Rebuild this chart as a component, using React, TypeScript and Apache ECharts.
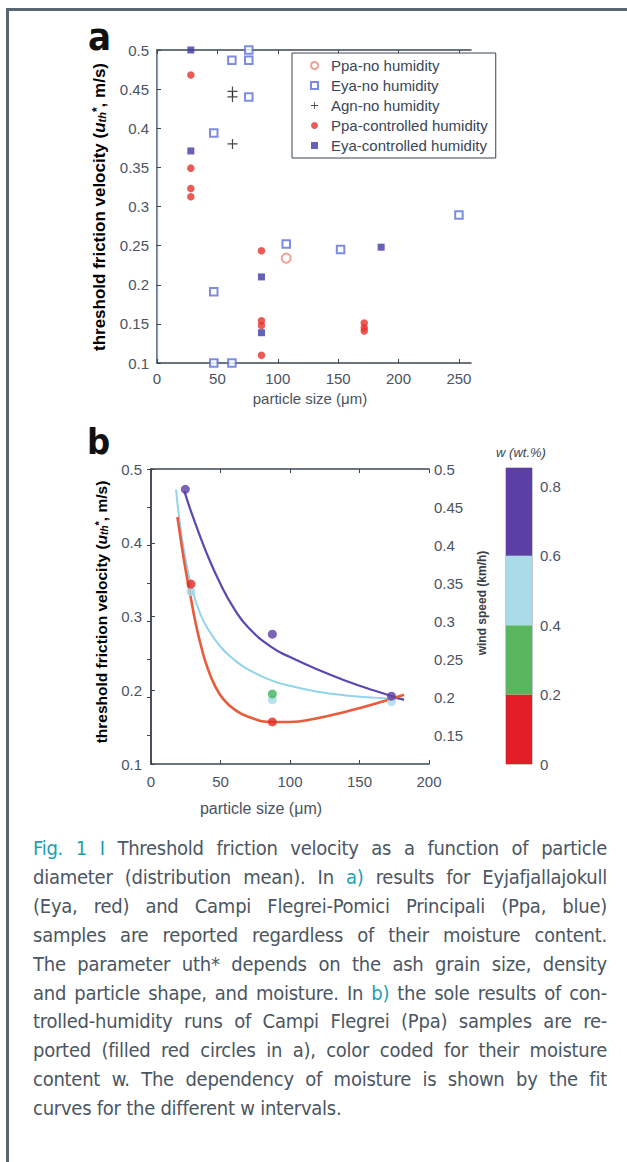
import React, { useEffect, useRef } from "react";
import * as echarts from "echarts";

// ---------- Panel a data: [particle size (µm), u_th* (m/s)] ----------
const ppaNoHumidity = [[107, 0.234]];
const eyaNoHumidity = [
  [47, 0.394], [62, 0.487], [76, 0.5], [76, 0.487], [76, 0.44], [250, 0.289],
  [47, 0.191], [47, 0.1], [62, 0.1], [107, 0.252], [152, 0.245],
];
const agnNoHumidity = [[62.5, 0.447], [62.5, 0.44], [62.5, 0.38]];
const ppaControlled = [
  [28, 0.468], [28, 0.349], [28, 0.323], [28, 0.3125],
  [86.5, 0.2435], [86.5, 0.154], [86.5, 0.148], [86.5, 0.11],
  [171.6, 0.151], [171.6, 0.145], [171.6, 0.141],
];
const eyaControlled = [[28, 0.5], [28, 0.371], [86.5, 0.21], [86.5, 0.1387], [185.6, 0.248]];

const xTicksA = [0, 50, 100, 150, 200, 250];
const yTicksRightB = [0.15, 0.2, 0.25, 0.3, 0.35, 0.4, 0.45, 0.5];
const wTicks = [0, 0.2, 0.4, 0.6, 0.8];

// ---------- Panel b data (fit curves) ----------
const fitPurple = [
  [24, 0.47], [30, 0.436], [40, 0.386], [50, 0.344], [60, 0.31], [70, 0.285],
  [87, 0.258], [100, 0.245], [120, 0.228], [140, 0.213], [160, 0.2], [182, 0.187],
];
const fitLightBlue = [
  [18, 0.472], [22, 0.41], [26, 0.366], [30, 0.334], [35, 0.306], [40, 0.286],
  [50, 0.259], [60, 0.241], [70, 0.228], [87, 0.213], [100, 0.206], [120, 0.198],
  [140, 0.193], [160, 0.19], [182, 0.188],
];
const fitRed = [
  [19, 0.435], [22, 0.397], [25, 0.362], [28, 0.332], [32, 0.292], [36, 0.26],
  [40, 0.234], [46, 0.206], [52, 0.188], [60, 0.174], [70, 0.164], [87, 0.157],
  [100, 0.157], [117, 0.161], [140, 0.171], [160, 0.181], [182, 0.194],
];
const ptsPurple = [[24.7, 0.4725], [87.3, 0.276], [173, 0.192]];
const ptsRed = [[28.8, 0.344], [87.3, 0.157]];
const ptsLightBlue = [[28.8, 0.3336], [87.3, 0.187], [173, 0.1845]];
const ptsGreen = [[87.3, 0.195]];

// ---------- colour bar (w, wt.%) ----------
const wBins = ["0-0.2", "0.2-0.4", "0.4-0.6", "0.6-0.85"];
const wBinHeights = [0.2, 0.2, 0.2, 0.253];
const wBinColors = ["#e21d26", "#5ab65e", "#a9dce8", "#5b3fa5"];

const captionLines = [
  [["t", "Fig. 1 I "], ["n", "Threshold friction velocity as a function of particle"]],
  [["n", "diameter (distribution mean). In "], ["t", "a)"], ["n", " results for Eyjafjallajokull"]],
  [["n", "(Eya, red) and Campi Flegrei-Pomici Principali (Ppa, blue)"]],
  [["n", "samples are reported regardless of their moisture content."]],
  [["n", "The parameter uth* depends on the ash grain size, density"]],
  [["n", "and particle shape, and moisture. In "], ["t", "b)"], ["n", " the sole results of con-"]],
  [["n", "trolled-humidity runs of Campi Flegrei (Ppa) samples are re-"]],
  [["n", "ported (filled red circles in a), color coded for their moisture"]],
  [["n", "content w. The dependency of moisture is shown by the fit"]],
  [["n", "curves for the different w intervals."]],
];

const AX = "#3b4551";
const TICKC = "#4a5463";
const FONT = "'Liberation Sans', Arial, sans-serif";
const PLUS = "path://M4.4,0 h1.2 v4.4 h4.4 v1.2 h-4.4 v4.4 h-1.2 v-4.4 h-4.4 v-1.2 h4.4 z";

const isMult = (v: number, step: number) => Math.abs(v / step - Math.round(v / step)) < 1e-6;

function buildOption(): any {
  const tickLabel = { color: TICKC, fontSize: 15, fontFamily: FONT };
  const line = { lineStyle: { color: AX, width: 1.5 } };
  const nameStyleA = {
    n: { fontSize: 17, fontWeight: "bold", color: "#3a4049", fontFamily: FONT },
    i: { fontSize: 17, fontWeight: "bold", fontStyle: "italic", color: "#3a4049", fontFamily: FONT },
    s: { fontSize: 11, fontWeight: "bold", fontStyle: "italic", color: "#3a4049", fontFamily: FONT, verticalAlign: "bottom" },
    p: { fontSize: 12, fontWeight: "bold", color: "#3a4049", fontFamily: FONT, verticalAlign: "top" },
  };
  const nameStyleB = {
    n: { fontSize: 15.5, fontWeight: "bold", color: "#3a4049", fontFamily: FONT },
    i: { fontSize: 15.5, fontWeight: "bold", fontStyle: "italic", color: "#3a4049", fontFamily: FONT },
    s: { fontSize: 10, fontWeight: "bold", fontStyle: "italic", color: "#3a4049", fontFamily: FONT, verticalAlign: "bottom" },
    p: { fontSize: 11, fontWeight: "bold", color: "#3a4049", fontFamily: FONT, verticalAlign: "top" },
  };
  const yNameText = "{n|threshold friction velocity (}{i|u}{s|th}{p|*}{n|, m/s)}";

  return {
    animation: false,
    backgroundColor: "transparent",
    grid: [
      { left: 157, top: 50, width: 314, height: 313 },
      { left: 151, top: 469, width: 278, height: 295 },
      { left: 506, top: 468, width: 26, height: 296, show: true, borderColor: "#8a8f96", borderWidth: 1 },
    ],
    xAxis: [
      {
        gridIndex: 0, type: "value", position: "bottom", min: 0, max: 260, splitNumber: 5,
        axisLine: line, splitLine: { show: false },
        axisTick: { inside: true, length: 4, lineStyle: { color: AX }, customValues: xTicksA },
        axisLabel: { ...tickLabel, margin: 8, customValues: xTicksA, formatter: (v: number) => (isMult(v, 50) ? String(v) : "") },
      },
      {
        gridIndex: 0, type: "value", position: "top", min: 0, max: 260, splitNumber: 5,
        axisLine: line, splitLine: { show: false },
        axisTick: { inside: true, length: 4, lineStyle: { color: AX }, customValues: xTicksA },
        axisLabel: { show: false },
      },
      {
        gridIndex: 1, type: "value", position: "bottom", min: 0, max: 200, interval: 50,
        axisLine: line, splitLine: { show: false },
        axisTick: { inside: true, length: 4, lineStyle: { color: AX } },
        axisLabel: { ...tickLabel, margin: 10 },
      },
      {
        gridIndex: 1, type: "value", position: "top", min: 0, max: 200, interval: 50,
        axisLine: line, splitLine: { show: false },
        axisTick: { inside: true, length: 4, lineStyle: { color: AX } },
        axisLabel: { show: false },
      },
      {
        gridIndex: 2, type: "category", data: ["w"], show: false,
      },
    ],
    yAxis: [
      {
        gridIndex: 0, type: "value", position: "left", min: 0.1, max: 0.5, interval: 0.05,
        axisLine: { show: true, ...line }, splitLine: { show: false },
        axisTick: { inside: true, length: 4, lineStyle: { color: AX } },
        axisLabel: { ...tickLabel, margin: 8 },
      },
      {
        gridIndex: 0, type: "value", position: "right", min: 0.1, max: 0.5, interval: 0.05,
        axisLine: { show: true, lineStyle: { color: "#7aa3e3", width: 1.2 } }, splitLine: { show: false },
        axisTick: { show: false }, axisLabel: { show: false },
      },
      {
        gridIndex: 1, type: "value", position: "left", min: 0.1, max: 0.5, interval: 0.1,
        axisLine: { show: true, ...line }, splitLine: { show: false },
        axisTick: { inside: true, length: 4, lineStyle: { color: AX } },
        axisLabel: { ...tickLabel, margin: 9 },
      },
      {
        gridIndex: 1, type: "value", position: "right", min: 0.112, max: 0.5, splitNumber: 8,
        axisLine: { show: true, ...line }, splitLine: { show: false },
        axisTick: { inside: true, length: 4, lineStyle: { color: AX }, customValues: yTicksRightB },
        axisLabel: {
          ...tickLabel, margin: 5, customValues: yTicksRightB,
          formatter: (v: number) => (isMult(v, 0.05) && v > 0.12 ? String(+v.toFixed(2)) : ""),
        },
      },
      {
        gridIndex: 2, type: "value", position: "right", min: 0, max: 0.853, splitNumber: 4,
        axisLine: { show: false }, splitLine: { show: false },
        axisTick: { show: false },
        axisLabel: {
          ...tickLabel, margin: 8, customValues: wTicks,
          formatter: (v: number) => (isMult(v, 0.2) && v < 0.85 ? String(+v.toFixed(1)) : ""),
        },
      },
    ],
    legend: {
      left: 292, top: 53, orient: "vertical", selectedMode: false,
      backgroundColor: "#fff", borderColor: AX, borderWidth: 1,
      padding: [3, 8, 3, 18], itemGap: 1, itemWidth: 7, itemHeight: 7,
      textStyle: { fontSize: 15, color: "#3a4656", fontFamily: FONT, lineHeight: 19, padding: [0, 0, 0, 8] },
      data: ["Ppa-no humidity", "Eya-no humidity", "Agn-no humidity", "Ppa-controlled humidity", "Eya-controlled humidity"],
    },
    series: [
      {
        name: "Ppa-no humidity", type: "scatter", xAxisIndex: 0, yAxisIndex: 0, clip: false,
        symbol: "emptyCircle", symbolSize: 9, data: ppaNoHumidity,
        itemStyle: { color: "#f0877a", borderWidth: 1.1 },
      },
      {
        name: "Eya-no humidity", type: "scatter", xAxisIndex: 0, yAxisIndex: 0, clip: false,
        symbol: "emptyRect", symbolSize: 7.5, data: eyaNoHumidity,
        itemStyle: { color: "#5c6fdc", borderWidth: 1.1 },
      },
      {
        name: "Agn-no humidity", type: "scatter", xAxisIndex: 0, yAxisIndex: 0, clip: false,
        symbol: PLUS, symbolSize: 10, data: agnNoHumidity,
        itemStyle: { color: "#1a1a1a" },
      },
      {
        name: "Ppa-controlled humidity", type: "scatter", xAxisIndex: 0, yAxisIndex: 0, clip: false,
        symbol: "circle", symbolSize: 7.5, data: ppaControlled,
        itemStyle: { color: "#e6322a" },
      },
      {
        name: "Eya-controlled humidity", type: "scatter", xAxisIndex: 0, yAxisIndex: 0, clip: false,
        symbol: "rect", symbolSize: 7, data: eyaControlled,
        itemStyle: { color: "#3d3aa5" },
      },
      // panel b fit curves
      {
        type: "line", xAxisIndex: 2, yAxisIndex: 2, data: fitLightBlue, smooth: 0.5,
        showSymbol: false, lineStyle: { color: "#92d4ea", width: 2 }, silent: true, z: 2,
      },
      {
        type: "line", xAxisIndex: 2, yAxisIndex: 2, data: fitPurple, smooth: 0.5,
        showSymbol: false, lineStyle: { color: "#5a48b2", width: 2.2 }, silent: true, z: 2,
      },
      {
        type: "line", xAxisIndex: 2, yAxisIndex: 2, data: fitRed, smooth: 0.5,
        showSymbol: false, lineStyle: { color: "#ea5a3c", width: 2.6 }, silent: true, z: 2,
      },
      // panel b points
      { type: "scatter", xAxisIndex: 2, yAxisIndex: 2, data: ptsLightBlue, symbolSize: 9, itemStyle: { color: "#a6dbe8" }, z: 3, clip: false },
      { type: "scatter", xAxisIndex: 2, yAxisIndex: 2, data: ptsGreen, symbolSize: 9, itemStyle: { color: "#3fb55c" }, z: 3, clip: false },
      { type: "scatter", xAxisIndex: 2, yAxisIndex: 2, data: ptsRed, symbolSize: 9, itemStyle: { color: "#e42b22" }, z: 3, clip: false },
      { type: "scatter", xAxisIndex: 2, yAxisIndex: 2, data: ptsPurple, symbolSize: 9, itemStyle: { color: "#5b3fa5" }, z: 3, clip: false },
      // colour bar
      ...wBins.map((b, i) => ({
        type: "bar", name: b, xAxisIndex: 4, yAxisIndex: 4, stack: "w", barWidth: "100%",
        data: [wBinHeights[i]], itemStyle: { color: wBinColors[i] }, silent: true,
      })),
    ],
    graphic: [
      { type: "text", x: 88, y: 56, style: { text: "a", fontSize: 38, fontWeight: "bold", fill: "#111", fontFamily: "'Liberation Sans Narrow', 'DejaVu Sans Condensed', Arial, sans-serif", verticalAlign: "bottom" } },
      { type: "text", x: 87, y: 459, style: { text: "b", fontSize: 36, fontWeight: "bold", fill: "#111", fontFamily: "'Liberation Sans Narrow', 'DejaVu Sans Condensed', Arial, sans-serif", verticalAlign: "bottom" } },
      {
        type: "text", x: 99, y: 207, rotation: Math.PI / 2,
        style: { text: yNameText, rich: nameStyleA, align: "center", verticalAlign: "middle" },
      },
      {
        type: "text", x: 101, y: 612, rotation: Math.PI / 2,
        style: { text: yNameText, rich: nameStyleB, align: "center", verticalAlign: "middle" },
      },
      {
        type: "text", x: 310, y: 398,
        style: { text: "particle size (\u03bcm)", fontSize: 15, fill: "#4a5260", fontFamily: FONT, align: "center", verticalAlign: "middle" },
      },
      {
        type: "text", x: 261, y: 808,
        style: { text: "particle size (\u03bcm)", fontSize: 16, fill: "#4a5260", fontFamily: FONT, align: "center", verticalAlign: "middle" },
      },
      {
        type: "text", x: 482, y: 603, rotation: Math.PI / 2,
        style: { text: "wind speed (km/h)", fontSize: 12, fontWeight: "bold", fill: "#3a4049", fontFamily: FONT, align: "center", verticalAlign: "middle" },
      },
      {
        type: "text", x: 521, y: 452,
        style: { text: "w (wt.%)", fontSize: 13, fontStyle: "italic", fill: "#3a4656", fontFamily: FONT, align: "center", verticalAlign: "middle" },
      },
    ],
  };
}

export default function App() {
  const ref = useRef<HTMLDivElement>(null);
  useEffect(() => {
    if (!ref.current) return;
    const chart = echarts.init(ref.current, null, { renderer: "svg" });
    chart.setOption(buildOption());
    return () => chart.dispose();
  }, []);

  const capFont = "'Liberation Sans Narrow', 'DejaVu Sans Condensed', 'Roboto Condensed', Roboto, sans-serif";
  return (
    <div style={{ position: "absolute", left: 0, top: 0, width: 627, height: 1162, background: "#fff", overflow: "hidden" }}>
      <div style={{ position: "absolute", left: 6, top: 8, width: 640, height: 1200, borderLeft: "3px solid #5b6670", borderTop: "3px solid #5b6670" }} />
      <div ref={ref} style={{ position: "absolute", left: 0, top: 0, width: 627, height: 830 }} />
      {captionLines.map((ln, i) => (
        <div
          key={i}
          style={{
            position: "absolute", left: 33, top: 834 + i * 28.9, width: 574, height: 29, lineHeight: "29px",
            overflow: "hidden", fontFamily: capFont, fontSize: 20, letterSpacing: "-0.25px", color: "#4b5662",
            textAlign: "justify", textAlignLast: i === captionLines.length - 1 ? "left" : "justify",
          } as React.CSSProperties}
        >
          {ln.map((seg, j) => (
            <span key={j} style={{ color: seg[0] === "t" ? "#1b9fb3" : undefined }}>{seg[1]}</span>
          ))}
        </div>
      ))}
    </div>
  );
}
